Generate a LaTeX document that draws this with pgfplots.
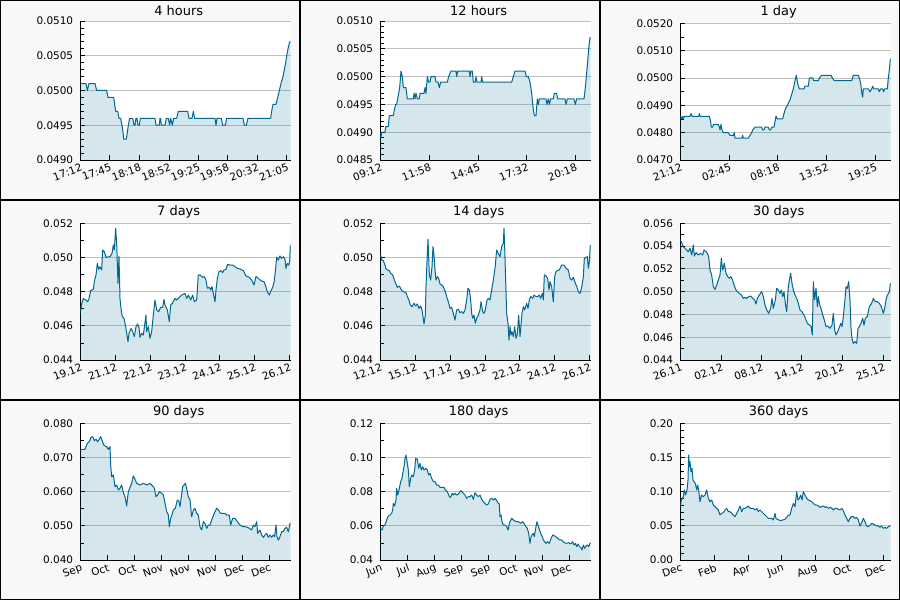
\documentclass[border=0pt]{standalone}
\usepackage{fontspec}
\setmainfont{DejaVu Sans}
\usepackage{pgfplots}
\usepackage{pgfplotstable}
\pgfplotsset{compat=1.18}
\definecolor{lc}{RGB}{0,104,145}
\definecolor{gridc}{RGB}{192,192,192}
\definecolor{cellbg}{RGB}{248,248,248}

% data: x = horizontal position across the panel, y = price
\pgfplotstableread[row sep=\\]{x y\\
241 0.0501\\ 258 0.0501\\ 262 0.0500\\ 267 0.0501\\ 285 0.0501\\ 290 0.0500\\ 320 0.0500\\ 324 0.0499\\
341 0.0499\\ 344 0.0498\\ 347 0.0497\\ 353 0.0497\\ 357 0.0496\\ 362 0.0496\\ 366 0.0495\\ 369 0.0494\\
371 0.0493\\ 379 0.0493\\ 382 0.0494\\ 385 0.0495\\ 389 0.0496\\ 398 0.0496\\ 402 0.0495\\ 405 0.0495\\
408 0.0496\\ 411 0.0496\\ 414 0.0495\\ 418 0.0495\\ 421 0.0496\\ 465 0.0496\\ 468 0.0495\\ 478 0.0495\\
480 0.0496\\ 482 0.0496\\ 484 0.0495\\ 495 0.0495\\ 499 0.0496\\ 505 0.0496\\ 509 0.0495\\ 512 0.0496\\
517 0.0495\\ 521 0.0496\\ 530 0.0496\\ 535 0.0497\\ 563 0.0497\\ 567 0.0496\\ 576 0.0496\\ 580 0.0497\\
584 0.0496\\ 645 0.0496\\ 648 0.0495\\ 651 0.0496\\ 664 0.0496\\ 668 0.0495\\ 676 0.0495\\ 680 0.0496\\
729 0.0496\\ 733 0.0495\\ 739 0.0495\\ 744 0.0496\\ 812 0.0496\\ 815 0.0497\\ 819 0.0498\\ 828 0.0498\\
833 0.0499\\ 838 0.0500\\ 843 0.0501\\ 849 0.0502\\ 853 0.0503\\ 857 0.0504\\ 860 0.0505\\ 864 0.0506\\
869 0.0507\\ 872 0.0507\\
}\tA

\pgfplotstableread[row sep=\\]{x y\\
241 0.0490\\ 243 0.0489\\ 245 0.0490\\ 255 0.0490\\ 257 0.0491\\ 265 0.0491\\ 268 0.0493\\ 280 0.0493\\
283 0.0494\\ 287 0.0495\\ 290 0.0495\\ 293 0.0496\\ 296 0.0497\\ 299 0.0498\\ 303 0.0501\\ 307 0.0500\\
310 0.0498\\ 318 0.0498\\ 320 0.0497\\ 322 0.0496\\ 340 0.0496\\ 342 0.0497\\ 345 0.0496\\ 348 0.0497\\
352 0.0496\\ 358 0.0496\\ 360 0.0497\\ 372 0.0497\\ 375 0.0498\\ 378 0.0497\\ 382 0.0500\\ 386 0.0499\\
390 0.0499\\ 393 0.0500\\ 405 0.0500\\ 408 0.0499\\ 414 0.0499\\ 418 0.0498\\ 422 0.0499\\ 442 0.0499\\
446 0.0500\\ 453 0.0501\\ 468 0.0501\\ 470 0.0500\\ 473 0.0501\\ 508 0.0501\\ 510 0.0500\\ 513 0.0501\\
517 0.0501\\ 520 0.0499\\ 526 0.0499\\ 528 0.0500\\ 531 0.0499\\ 543 0.0499\\ 545 0.0500\\ 548 0.0499\\
635 0.0499\\ 640 0.0500\\ 645 0.0501\\ 675 0.0501\\ 679 0.0500\\ 685 0.0500\\ 690 0.0499\\ 695 0.0497\\
700 0.0494\\ 703 0.0493\\ 708 0.0493\\ 712 0.0496\\ 715 0.0495\\ 718 0.0496\\ 738 0.0496\\ 741 0.0495\\
745 0.0496\\ 748 0.0495\\ 752 0.0496\\ 760 0.0496\\ 763 0.0497\\ 770 0.0497\\ 773 0.0496\\ 795 0.0496\\
798 0.0495\\ 802 0.0496\\ 822 0.0496\\ 826 0.0495\\ 830 0.0496\\ 852 0.0496\\ 856 0.0498\\ 859 0.0500\\
862 0.0502\\ 866 0.0505\\ 870 0.0507\\ 872 0.0507\\
}\tB

\pgfplotstableread[row sep=\\]{x y\\
241 0.0486\\ 244 0.0485\\ 247 0.0486\\ 250 0.0485\\ 253 0.0486\\ 270 0.0486\\ 273 0.0487\\ 276 0.0486\\
296 0.0486\\ 298 0.0487\\ 300 0.0486\\ 328 0.0486\\ 332 0.0484\\ 334 0.0482\\ 338 0.0482\\ 340 0.0483\\
355 0.0483\\ 358 0.0482\\ 360 0.0481\\ 363 0.0483\\ 366 0.0481\\ 370 0.0480\\ 385 0.0480\\ 390 0.0479\\
400 0.0479\\ 403 0.0480\\ 405 0.0478\\ 426 0.0478\\ 428 0.0479\\ 430 0.0478\\ 445 0.0478\\ 450 0.0479\\
455 0.0480\\ 458 0.0481\\ 465 0.0482\\ 485 0.0482\\ 488 0.0481\\ 492 0.0481\\ 495 0.0482\\ 505 0.0482\\
508 0.0481\\ 512 0.0481\\ 515 0.0482\\ 522 0.0482\\ 525 0.0484\\ 528 0.0486\\ 532 0.0485\\ 548 0.0485\\
552 0.0487\\ 557 0.0489\\ 562 0.0490\\ 566 0.0491\\ 570 0.0492\\ 575 0.0494\\ 580 0.0496\\ 585 0.0499\\
589 0.0501\\ 593 0.0498\\ 598 0.0496\\ 612 0.0496\\ 615 0.0497\\ 625 0.0497\\ 628 0.0500\\ 638 0.0500\\
641 0.0499\\ 655 0.0499\\ 658 0.0500\\ 665 0.0501\\ 693 0.0501\\ 697 0.0500\\ 703 0.0499\\ 755 0.0499\\
760 0.0501\\ 775 0.0501\\ 778 0.0500\\ 782 0.0498\\ 786 0.0494\\ 788 0.0493\\ 790 0.0496\\ 793 0.0496\\
805 0.0496\\ 810 0.0495\\ 815 0.0496\\ 818 0.0497\\ 822 0.0496\\ 835 0.0496\\ 838 0.0495\\ 842 0.0496\\
848 0.0496\\ 851 0.0495\\ 854 0.0496\\ 862 0.0496\\ 865 0.0500\\ 868 0.0503\\ 871 0.0507\\ 872 0.0507\\
}\tC

\pgfplotstableread[row sep=\\]{x y\\
241 0.04677\\ 245 0.04728\\ 250 0.04759\\ 258 0.04751\\ 263 0.04741\\ 267 0.04759\\ 272 0.04806\\ 280 0.04814\\
283 0.04859\\ 288 0.04898\\ 292 0.04966\\ 296 0.04931\\ 300 0.04946\\ 305 0.04927\\ 308 0.05044\\ 313 0.05034\\
318 0.05001\\ 330 0.05005\\ 336 0.05024\\ 340 0.05073\\ 343 0.05044\\ 347 0.05171\\ 350 0.05083\\ 354 0.04849\\
357 0.05005\\ 360 0.04761\\ 363 0.04702\\ 367 0.04654\\ 372 0.04644\\ 377 0.04595\\ 381 0.04546\\ 384 0.04507\\
387 0.04556\\ 393 0.04585\\ 398 0.04566\\ 403 0.04537\\ 408 0.04595\\ 413 0.04611\\ 417 0.04589\\ 420 0.04533\\
425 0.04556\\ 430 0.04546\\ 438 0.04663\\ 440 0.04566\\ 445 0.04595\\ 450 0.04527\\ 455 0.04566\\ 460 0.04663\\
465 0.04751\\ 470 0.04693\\ 476 0.04683\\ 482 0.04708\\ 488 0.04708\\ 492 0.04755\\ 495 0.04722\\ 502 0.04693\\
508 0.04624\\ 512 0.04722\\ 517 0.04732\\ 525 0.04761\\ 530 0.04751\\ 540 0.04771\\ 545 0.04780\\ 555 0.04790\\
560 0.04761\\ 565 0.04780\\ 572 0.04751\\ 578 0.04780\\ 583 0.04741\\ 590 0.04751\\ 595 0.04898\\ 600 0.04898\\
608 0.04884\\ 613 0.04888\\ 618 0.04868\\ 622 0.04820\\ 628 0.04825\\ 632 0.04810\\ 636 0.04829\\ 640 0.04790\\
645 0.04741\\ 648 0.04810\\ 652 0.04878\\ 657 0.04917\\ 663 0.04923\\ 668 0.04911\\ 672 0.04927\\ 678 0.04931\\
683 0.04960\\ 690 0.04956\\ 698 0.04956\\ 705 0.04946\\ 712 0.04937\\ 722 0.04931\\ 730 0.04923\\ 738 0.04892\\
748 0.04884\\ 755 0.04868\\ 762 0.04839\\ 768 0.04888\\ 772 0.04884\\ 778 0.04872\\ 785 0.04862\\ 792 0.04859\\
797 0.04833\\ 802 0.04800\\ 808 0.04780\\ 813 0.04806\\ 818 0.04825\\ 822 0.04853\\ 826 0.04917\\ 830 0.05001\\
835 0.04985\\ 840 0.05009\\ 845 0.04995\\ 850 0.05005\\ 855 0.04989\\ 858 0.04937\\ 862 0.04966\\ 866 0.04956\\
869 0.04976\\ 871 0.05073\\ 872 0.05073\\
}\tD

\pgfplotstableread[row sep=\\]{x y\\
241 0.05024\\ 245 0.04985\\ 250 0.04981\\ 255 0.04956\\ 258 0.04933\\ 262 0.04927\\ 268 0.04923\\ 272 0.04907\\
278 0.04898\\ 283 0.04868\\ 287 0.04849\\ 292 0.04825\\ 298 0.04833\\ 303 0.04814\\ 310 0.04800\\ 318 0.04794\\
322 0.04771\\ 326 0.04755\\ 331 0.04722\\ 336 0.04712\\ 342 0.04732\\ 347 0.04716\\ 352 0.04728\\ 357 0.04702\\
362 0.04716\\ 366 0.04693\\ 369 0.04654\\ 372 0.04611\\ 376 0.04663\\ 378 0.04829\\ 382 0.05024\\ 384 0.05106\\
388 0.04898\\ 392 0.04868\\ 396 0.04946\\ 399 0.05063\\ 402 0.05015\\ 405 0.04927\\ 408 0.04868\\ 412 0.04888\\
416 0.04878\\ 420 0.04845\\ 425 0.04839\\ 430 0.04829\\ 436 0.04800\\ 440 0.04771\\ 445 0.04741\\ 450 0.04702\\
455 0.04708\\ 460 0.04673\\ 465 0.04634\\ 470 0.04693\\ 475 0.04697\\ 480 0.04677\\ 485 0.04683\\ 490 0.04673\\
495 0.04693\\ 500 0.04751\\ 504 0.04820\\ 508 0.04810\\ 512 0.04751\\ 515 0.04673\\ 518 0.04644\\ 522 0.04663\\
526 0.04615\\ 530 0.04644\\ 535 0.04663\\ 540 0.04693\\ 543 0.04741\\ 548 0.04683\\ 552 0.04673\\ 556 0.04693\\
561 0.04751\\ 565 0.04761\\ 570 0.04751\\ 575 0.04810\\ 580 0.04868\\ 585 0.04937\\ 590 0.05044\\ 595 0.05024\\
600 0.05005\\ 605 0.05063\\ 610 0.05083\\ 612 0.05171\\ 614 0.05063\\ 617 0.04868\\ 620 0.04673\\ 624 0.04615\\
627 0.04517\\ 630 0.04595\\ 633 0.04546\\ 636 0.04566\\ 640 0.04537\\ 644 0.04595\\ 648 0.04527\\ 652 0.04552\\
656 0.04663\\ 660 0.04537\\ 663 0.04605\\ 666 0.04673\\ 670 0.04712\\ 674 0.04693\\ 680 0.04732\\ 684 0.04702\\
688 0.04751\\ 692 0.04771\\ 698 0.04761\\ 702 0.04780\\ 708 0.04771\\ 713 0.04771\\ 718 0.04780\\ 722 0.04761\\
727 0.04790\\ 730 0.04751\\ 733 0.04898\\ 738 0.04892\\ 743 0.04878\\ 747 0.04810\\ 750 0.04859\\ 755 0.04829\\
760 0.04741\\ 764 0.04888\\ 768 0.04917\\ 772 0.04923\\ 778 0.04927\\ 785 0.04956\\ 792 0.04956\\ 798 0.04937\\
805 0.04927\\ 810 0.04878\\ 815 0.04868\\ 820 0.04884\\ 826 0.04849\\ 830 0.04833\\ 835 0.04800\\ 840 0.04790\\
845 0.04825\\ 850 0.04888\\ 853 0.04995\\ 858 0.05001\\ 862 0.05005\\ 865 0.04937\\ 868 0.04976\\ 871 0.05073\\
872 0.05073\\
}\tE

\pgfplotstableread[row sep=\\]{x y\\
241 0.05454\\ 245 0.05430\\ 250 0.05395\\ 255 0.05381\\ 260 0.05366\\ 265 0.05351\\ 270 0.05381\\ 275 0.05322\\
280 0.05410\\ 283 0.05313\\ 288 0.05342\\ 295 0.05322\\ 302 0.05337\\ 308 0.05322\\ 312 0.05366\\ 318 0.05351\\
322 0.05337\\ 326 0.05307\\ 330 0.05190\\ 335 0.05146\\ 340 0.05044\\ 345 0.05020\\ 350 0.05059\\ 355 0.05102\\
360 0.05146\\ 364 0.05293\\ 368 0.05190\\ 373 0.05249\\ 378 0.05161\\ 383 0.05132\\ 388 0.05117\\ 393 0.05132\\
398 0.05102\\ 402 0.05059\\ 408 0.05015\\ 412 0.05000\\ 418 0.04985\\ 424 0.04971\\ 430 0.04941\\ 435 0.04950\\
440 0.04941\\ 446 0.04956\\ 452 0.04962\\ 458 0.04941\\ 464 0.04927\\ 468 0.04892\\ 472 0.04941\\ 478 0.04971\\
485 0.05000\\ 490 0.04956\\ 495 0.04883\\ 500 0.04839\\ 506 0.04810\\ 512 0.04854\\ 516 0.04941\\ 520 0.04854\\
526 0.04927\\ 530 0.05029\\ 535 0.05015\\ 540 0.04985\\ 544 0.05015\\ 548 0.04956\\ 552 0.05000\\ 556 0.04898\\
560 0.04824\\ 565 0.05044\\ 569 0.05117\\ 572 0.05161\\ 576 0.05073\\ 580 0.05015\\ 585 0.04971\\ 590 0.04941\\
595 0.04898\\ 600 0.04839\\ 606 0.04824\\ 612 0.04795\\ 618 0.04751\\ 622 0.04722\\ 628 0.04707\\ 633 0.04699\\
637 0.04620\\ 640 0.05088\\ 644 0.04927\\ 648 0.05029\\ 652 0.04868\\ 655 0.04956\\ 659 0.04883\\ 663 0.04854\\
668 0.04795\\ 673 0.04751\\ 678 0.04693\\ 683 0.04699\\ 690 0.04678\\ 696 0.04707\\ 700 0.04810\\ 704 0.04663\\
708 0.04620\\ 713 0.04649\\ 717 0.04678\\ 722 0.04722\\ 726 0.04693\\ 730 0.04781\\ 734 0.04898\\ 738 0.05044\\
742 0.05029\\ 746 0.05088\\ 750 0.04927\\ 753 0.04678\\ 756 0.04590\\ 760 0.04546\\ 765 0.04561\\ 770 0.04546\\
774 0.04678\\ 778 0.04693\\ 783 0.04722\\ 788 0.04766\\ 792 0.04707\\ 796 0.04766\\ 802 0.04781\\ 808 0.04868\\
815 0.04898\\ 820 0.04941\\ 826 0.04912\\ 832 0.04912\\ 838 0.04898\\ 844 0.04868\\ 850 0.04810\\ 854 0.04854\\
858 0.04927\\ 862 0.04971\\ 866 0.04985\\ 869 0.05015\\ 871 0.05073\\ 872 0.05073\\
}\tF

\pgfplotstableread[row sep=\\]{x y\\
241 0.07220\\ 248 0.07239\\ 255 0.07239\\ 262 0.07415\\ 268 0.07463\\ 273 0.07590\\ 278 0.07610\\ 283 0.07493\\
288 0.07532\\ 293 0.07463\\ 298 0.07532\\ 302 0.07610\\ 306 0.07512\\ 311 0.07366\\ 316 0.07337\\ 320 0.07317\\
325 0.07239\\ 330 0.07317\\ 332 0.06780\\ 335 0.06439\\ 340 0.06488\\ 345 0.06146\\ 350 0.06195\\ 355 0.06049\\
360 0.06098\\ 365 0.06195\\ 370 0.05971\\ 375 0.05854\\ 380 0.05580\\ 385 0.06000\\ 390 0.06127\\ 395 0.06244\\
400 0.06459\\ 405 0.06361\\ 410 0.06244\\ 420 0.06195\\ 430 0.06244\\ 440 0.06195\\ 450 0.06244\\ 458 0.06166\\
463 0.06098\\ 468 0.05854\\ 473 0.05902\\ 478 0.06000\\ 485 0.05951\\ 490 0.05902\\ 495 0.05659\\ 500 0.05415\\
505 0.05317\\ 508 0.04976\\ 512 0.05220\\ 516 0.05317\\ 520 0.05463\\ 526 0.05512\\ 532 0.05756\\ 537 0.05707\\
540 0.05561\\ 544 0.05854\\ 548 0.06146\\ 552 0.06195\\ 556 0.06244\\ 560 0.06098\\ 565 0.05854\\ 570 0.05756\\
575 0.05268\\ 580 0.05463\\ 585 0.05512\\ 590 0.05366\\ 595 0.05317\\ 600 0.04976\\ 605 0.04878\\ 610 0.05122\\
615 0.05073\\ 620 0.04927\\ 625 0.05024\\ 630 0.05024\\ 635 0.05171\\ 645 0.05415\\ 650 0.05512\\ 655 0.05463\\
662 0.05366\\ 668 0.05366\\ 675 0.05366\\ 680 0.05317\\ 688 0.05317\\ 692 0.05024\\ 698 0.05220\\ 705 0.05220\\
712 0.05122\\ 720 0.05024\\ 728 0.04976\\ 735 0.04976\\ 742 0.04956\\ 748 0.04927\\ 755 0.04878\\ 760 0.05024\\
765 0.04976\\ 770 0.05122\\ 773 0.04780\\ 780 0.04878\\ 785 0.04732\\ 790 0.04663\\ 795 0.04732\\ 800 0.04780\\
805 0.04663\\ 810 0.04732\\ 815 0.04663\\ 820 0.04732\\ 824 0.04683\\ 828 0.05024\\ 831 0.04683\\ 835 0.04585\\
840 0.04683\\ 845 0.04829\\ 850 0.04829\\ 855 0.04927\\ 860 0.04956\\ 865 0.04829\\ 870 0.05073\\ 872 0.05073\\
}\tG

\pgfplotstableread[row sep=\\]{x y\\
241 0.05854\\ 246 0.05756\\ 250 0.05990\\ 255 0.06049\\ 260 0.06341\\ 265 0.06576\\ 270 0.06634\\ 275 0.06732\\
278 0.06927\\ 280 0.07317\\ 284 0.07161\\ 288 0.07512\\ 290 0.08195\\ 293 0.07805\\ 297 0.08098\\ 302 0.08585\\
306 0.08780\\ 310 0.09268\\ 313 0.09561\\ 315 0.09951\\ 318 0.10146\\ 322 0.09659\\ 325 0.09268\\ 328 0.08293\\
332 0.08780\\ 336 0.08976\\ 340 0.08878\\ 344 0.09268\\ 347 0.09951\\ 352 0.09893\\ 356 0.09366\\ 360 0.09659\\
364 0.09268\\ 368 0.09463\\ 372 0.09268\\ 378 0.09366\\ 382 0.09268\\ 386 0.08976\\ 390 0.09073\\ 395 0.08780\\
400 0.08585\\ 405 0.08585\\ 410 0.08390\\ 415 0.08390\\ 420 0.08254\\ 425 0.08254\\ 432 0.08254\\ 436 0.08098\\
442 0.08000\\ 448 0.07707\\ 452 0.07668\\ 456 0.07902\\ 460 0.07805\\ 465 0.07902\\ 470 0.07805\\ 474 0.07844\\
478 0.07941\\ 482 0.08059\\ 486 0.08000\\ 490 0.07902\\ 495 0.07805\\ 500 0.07610\\ 505 0.07707\\ 510 0.07707\\
515 0.07805\\ 520 0.07551\\ 525 0.07941\\ 530 0.07805\\ 535 0.07707\\ 540 0.07805\\ 545 0.07551\\ 550 0.07415\\
555 0.07317\\ 560 0.07220\\ 565 0.07278\\ 570 0.07551\\ 575 0.07610\\ 580 0.07512\\ 585 0.07610\\ 590 0.07473\\
595 0.07317\\ 598 0.07278\\ 600 0.06537\\ 603 0.06634\\ 606 0.06244\\ 610 0.06049\\ 615 0.06049\\ 620 0.05951\\
624 0.05756\\ 627 0.06049\\ 630 0.06244\\ 635 0.06439\\ 640 0.06341\\ 648 0.06244\\ 655 0.06244\\ 662 0.06146\\
668 0.06244\\ 675 0.06049\\ 678 0.05951\\ 682 0.05854\\ 686 0.05561\\ 690 0.04976\\ 693 0.05327\\ 696 0.05463\\
700 0.05561\\ 703 0.05366\\ 707 0.05854\\ 711 0.06244\\ 714 0.06049\\ 717 0.05854\\ 722 0.05561\\ 727 0.05366\\
730 0.05171\\ 734 0.05073\\ 738 0.04976\\ 742 0.05073\\ 748 0.04976\\ 752 0.05210\\ 758 0.05463\\ 764 0.05405\\
770 0.05327\\ 778 0.05171\\ 785 0.05171\\ 792 0.05015\\ 800 0.04976\\ 806 0.05015\\ 812 0.04937\\ 818 0.05073\\
822 0.04878\\ 826 0.04976\\ 830 0.04780\\ 834 0.04937\\ 838 0.04780\\ 842 0.04741\\ 846 0.04585\\ 850 0.04878\\
854 0.04683\\ 858 0.04820\\ 862 0.04878\\ 866 0.04780\\ 870 0.04976\\ 872 0.05015\\
}\tH

\pgfplotstableread[row sep=\\]{x y\\
241 0.07805\\ 244 0.08780\\ 247 0.09024\\ 250 0.09268\\ 253 0.10244\\ 257 0.09512\\ 261 0.10244\\ 264 0.11707\\
266 0.15366\\ 268 0.13659\\ 270 0.14390\\ 273 0.12927\\ 276 0.13415\\ 279 0.11707\\ 282 0.11463\\ 286 0.11220\\
290 0.10244\\ 293 0.10976\\ 296 0.10244\\ 300 0.08537\\ 305 0.09512\\ 310 0.09268\\ 315 0.09512\\ 320 0.10244\\
325 0.09024\\ 330 0.08537\\ 335 0.08780\\ 340 0.08049\\ 345 0.07805\\ 350 0.07561\\ 355 0.07317\\ 360 0.06585\\
365 0.06829\\ 370 0.06927\\ 375 0.07317\\ 380 0.07561\\ 385 0.07073\\ 390 0.07073\\ 395 0.06829\\ 400 0.06585\\
405 0.06341\\ 410 0.06829\\ 415 0.07317\\ 420 0.07902\\ 425 0.07073\\ 430 0.07561\\ 435 0.07561\\ 440 0.07707\\
445 0.07902\\ 450 0.07561\\ 455 0.07561\\ 460 0.07561\\ 465 0.07317\\ 470 0.07561\\ 475 0.07073\\ 480 0.07317\\
485 0.07073\\ 490 0.06829\\ 495 0.06585\\ 500 0.06341\\ 505 0.06098\\ 510 0.06098\\ 515 0.06098\\ 520 0.05854\\
525 0.06829\\ 528 0.06098\\ 532 0.05951\\ 537 0.05854\\ 542 0.05756\\ 548 0.05854\\ 555 0.05951\\ 560 0.06244\\
565 0.06585\\ 570 0.06585\\ 575 0.07561\\ 580 0.08293\\ 585 0.07805\\ 590 0.10000\\ 594 0.08780\\ 598 0.09024\\
602 0.09512\\ 606 0.08780\\ 610 0.10000\\ 615 0.09512\\ 620 0.09024\\ 625 0.08780\\ 630 0.08683\\ 635 0.08537\\
640 0.08293\\ 645 0.08049\\ 650 0.08049\\ 655 0.07902\\ 660 0.07707\\ 665 0.07805\\ 670 0.07902\\ 675 0.07707\\
680 0.07805\\ 685 0.07561\\ 690 0.07707\\ 695 0.07561\\ 700 0.07317\\ 705 0.07561\\ 710 0.07561\\ 715 0.07415\\
720 0.07317\\ 725 0.07561\\ 730 0.07220\\ 735 0.06585\\ 740 0.06098\\ 745 0.05610\\ 750 0.06098\\ 755 0.06341\\
760 0.06341\\ 765 0.06098\\ 770 0.06244\\ 775 0.05854\\ 780 0.04976\\ 785 0.05463\\ 790 0.06098\\ 795 0.05610\\
800 0.04976\\ 805 0.04878\\ 810 0.05122\\ 815 0.05366\\ 820 0.05268\\ 825 0.05122\\ 830 0.04976\\ 835 0.04976\\
840 0.04780\\ 845 0.04976\\ 850 0.04634\\ 855 0.04780\\ 860 0.04634\\ 865 0.04878\\ 870 0.04976\\ 872 0.04976\\
}\tI

\pgfplotsset{
  panel/.style={
    scale only axis, width=210.33bp, height=136.67bp, anchor=south west,
    xmin=241, xmax=872,
    axis lines*=left,
    axis line style={black, line width=0.9bp},
    tick align=inside,
    major tick length=5bp, minor tick length=3.5bp,
    tick style={black, line width=0.8bp},
    ymajorgrids, grid style={draw=gridc, line width=0.9bp},
    axis background/.style={fill=white},
    tick label style={font=\fontsize{10.5}{12}\selectfont, text=black},
    xticklabel style={rotate=20, anchor=north east, inner sep=1bp, yshift=-2bp},
    yticklabel style={inner sep=0pt, xshift=-7bp},
    scaled y ticks=false,
    /pgf/number format/assume math mode=true,
    yticklabel style={/pgf/number format/.cd, fixed, fixed zerofill, precision=3},
  },
  prec/.style={yticklabel style={/pgf/number format/precision=#1}},
}

\newcommand{\series}[1]{%
  \addplot[draw=none, fill=lc, fill opacity=0.16] table {#1} \closedcycle;
  \addplot[lc, line width=1bp, line join=round] table {#1};
}

\begin{document}
\begin{tikzpicture}
% cell backgrounds and borders
\foreach \c in {0,1,2} {
  \foreach \r in {0,1,2} {
    \draw[black, line width=1bp, fill=cellbg]
      ({(300*\c+0.5)*1bp}, {(600-200*\r-0.5)*1bp}) rectangle ({(300*\c+299.5)*1bp}, {(400-200*\r+0.5)*1bp});
  }
}

% row 1
\begin{axis}[panel, at={(80.33bp,440bp)}, height=139bp, prec=4,
  ymin=0.049, ymax=0.051, ytick={0.049,0.0495,0.05,0.0505,0.051}, minor y tick num=4,
  xtick={241,329,418,507,595,682,771,860},
  xticklabels={17:12,17:45,18:18,18:52,19:25,19:58,20:32,21:05}]
\series{\tA}
\end{axis}
\begin{axis}[panel, at={(380.33bp,440bp)}, height=139bp, prec=4,
  ymin=0.0485, ymax=0.051, ytick={0.0485,0.049,0.0495,0.05,0.0505,0.051}, minor y tick num=4,
  xtick={241,388,535,680,826},
  xticklabels={09:12,11:58,14:45,17:32,20:18}]
\series{\tB}
\end{axis}
\begin{axis}[panel, at={(680.33bp,440bp)}, prec=4,
  ymin=0.047, ymax=0.052, ytick={0.047,0.048,0.049,0.05,0.051,0.052}, minor y tick num=1,
  xtick={241,388,533,680,826},
  xticklabels={21:12,02:45,08:18,13:52,19:25}]
\series{\tC}
\end{axis}

% row 2
\begin{axis}[panel, at={(80.33bp,240bp)},
  ymin=0.044, ymax=0.052, ytick={0.044,0.046,0.048,0.05,0.052}, minor y tick num=1,
  xtick={241,346,451,555,659,763,868},
  xticklabels={19.12,21.12,22.12,23.12,24.12,25.12,26.12}]
\series{\tD}
\end{axis}
\begin{axis}[panel, at={(380.33bp,240bp)},
  ymin=0.044, ymax=0.052, ytick={0.044,0.046,0.048,0.05,0.052}, minor y tick num=1,
  xtick={241,346,451,555,659,763,868},
  xticklabels={12.12,15.12,17.12,19.12,22.12,24.12,26.12}]
\series{\tE}
\end{axis}
\begin{axis}[panel, at={(680.33bp,240bp)},
  ymin=0.044, ymax=0.056, ytick={0.044,0.046,0.048,0.05,0.052,0.054,0.056}, minor y tick num=1,
  xtick={241,364,484,605,727,850},
  xticklabels={26.11,02.12,08.12,14.12,20.12,25.12}]
\series{\tF}
\end{axis}

% row 3
\begin{axis}[panel, at={(80.33bp,40bp)},
  ymin=0.04, ymax=0.08, ytick={0.04,0.05,0.06,0.07,0.08}, minor y tick num=1,
  xtick={241,322,403,484,565,646,727,808},
  xticklabels={Sep,Oct,Oct,Nov,Nov,Nov,Dec,Dec}]
\series{\tG}
\end{axis}
\begin{axis}[panel, at={(380.33bp,40bp)}, prec=2,
  ymin=0.04, ymax=0.12, ytick={0.04,0.06,0.08,0.1,0.12}, minor y tick num=1,
  xtick={241,322,403,484,565,646,727,808},
  xticklabels={Jun,Jul,Aug,Sep,Sep,Oct,Nov,Dec}]
\series{\tH}
\end{axis}
\begin{axis}[panel, at={(680.33bp,40bp)}, prec=2,
  ymin=0, ymax=0.2, ytick={0,0.05,0.1,0.15,0.2}, minor y tick num=4,
  xtick={241,344,445,545,646,747,849},
  xticklabels={Dec,Feb,Apr,Jun,Aug,Oct,Dec}]
\series{\tI}
\end{axis}

% panel titles
\foreach \c/\r/\t in {0/0/4 hours, 1/0/12 hours, 2/0/1 day,
                       0/1/7 days, 1/1/14 days, 2/1/30 days,
                       0/2/90 days, 1/2/180 days, 2/2/360 days} {
  \node[anchor=base, inner sep=0pt, font=\fontsize{13}{15}\selectfont]
    at ({(300*\c+178.7)*1bp}, {(600-200*\r-15.2)*1bp}) {\t};
}

\pgfresetboundingbox
\path[use as bounding box] (0,0) rectangle (900bp,600bp);
\end{tikzpicture}
\end{document}
